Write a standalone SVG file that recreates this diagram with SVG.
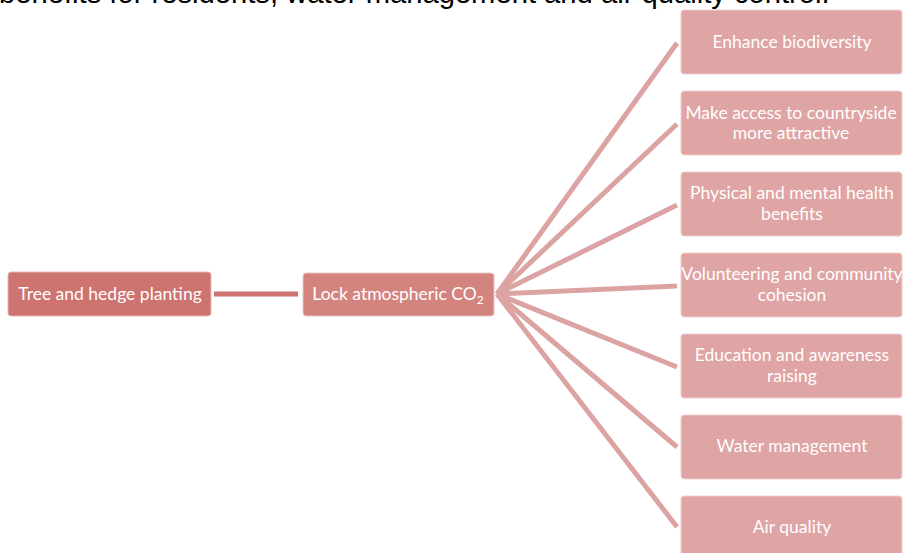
<svg xmlns="http://www.w3.org/2000/svg" width="903" height="553" viewBox="0 0 903 553">
<style>
.t{font-family:Lato,"Liberation Sans",sans-serif;font-size:17.5px;fill:#fff;text-anchor:middle}
.b{fill:#DFA4A4;stroke:#F0D0D0;stroke-width:1}
.c{stroke:#DCA3A3;stroke-width:5;fill:none}
</style>
<rect width="903" height="553" fill="#fff"/>
<text x="-1" y="3" font-family="Liberation Sans, Arial, sans-serif" font-size="29.2" fill="#000">benefits for residents, water management and air quality control.</text>
<g id="connectors">
<line x1="214" y1="294" x2="298" y2="294" stroke="#CD7370" stroke-width="5"/>
<line class="c" x1="497" y1="294" x2="677" y2="43"/>
<line class="c" x1="497" y1="294" x2="677" y2="124"/>
<line class="c" x1="497" y1="294" x2="677" y2="205"/>
<line class="c" x1="497" y1="294" x2="677" y2="286"/>
<line class="c" x1="497" y1="294" x2="677" y2="367"/>
<line class="c" x1="497" y1="294" x2="677" y2="447"/>
<line class="c" x1="497" y1="294" x2="677" y2="527"/>
</g>
<g id="n-tree"><rect x="8" y="272" width="203" height="44" rx="3" fill="#CD7370" stroke="#E8B8B6"/><text class="t" x="110" y="300">Tree and hedge planting</text></g>
<g id="n-lock"><rect x="303" y="273" width="191" height="43" rx="3" fill="#D4847F" stroke="#EDC4C2"/><text class="t" x="398" y="300">Lock atmospheric CO<tspan font-size="12" dy="4">2</tspan></text></g>
<g id="n1"><rect class="b" x="681" y="10" width="221" height="64" rx="3"/><text class="t" x="792" y="48">Enhance biodiversity</text></g>
<g id="n2"><rect class="b" x="681" y="91" width="221" height="64" rx="3"/><text class="t" x="791" y="119">Make access to countryside</text><text class="t" x="791" y="139">more attractive</text></g>
<g id="n3"><rect class="b" x="681" y="172" width="221" height="64" rx="3"/><text class="t" x="792" y="199">Physical and mental health</text><text class="t" x="792" y="220">benefits</text></g>
<g id="n4"><rect class="b" x="681" y="253" width="221" height="64" rx="3"/><text class="t" x="792" y="280">Volunteering and community</text><text class="t" x="792" y="301">cohesion</text></g>
<g id="n5"><rect class="b" x="681" y="334" width="221" height="64" rx="3"/><text class="t" x="792" y="361">Education and awareness</text><text class="t" x="792" y="382">raising</text></g>
<g id="n6"><rect class="b" x="681" y="415" width="221" height="64" rx="3"/><text class="t" x="792" y="452">Water management</text></g>
<g id="n7"><rect class="b" x="681" y="496" width="221" height="64" rx="3"/><text class="t" x="792" y="533">Air quality</text></g>
</svg>
